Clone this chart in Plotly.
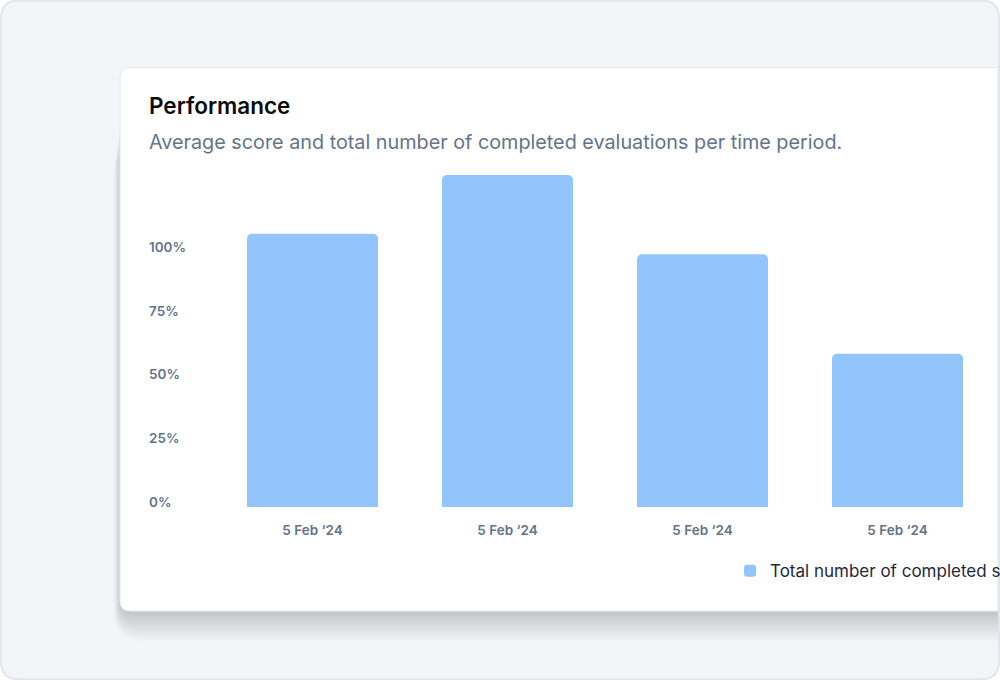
import plotly.graph_objects as go

# ---- data ----
periods = [0, 1, 2, 3]
period_labels = ["5 Feb ‘24", "5 Feb ‘24", "5 Feb ‘24", "5 Feb ‘24"]
completed_pct = [107, 130, 99, 60]
y_tick_vals = [0, 25, 50, 75, 100]
y_tick_text = ["0%", "25%", "50%", "75%", "100%"]
series_name = "Total number of completed surveys"
title_text = "Performance"
subtitle_text = "Average score and total number of completed evaluations per time period."

# ---- layout geometry (pixels) ----
WIDTH, HEIGHT = 1000, 680
L, R = 145, 5
PLOT_BOTTOM = 507
Y_MAX = 132
PX_PER_UNIT = 2.55
PLOT_TOP = PLOT_BOTTOM - Y_MAX * PX_PER_UNIT
T = PLOT_TOP
B = HEIGHT - PLOT_BOTTOM
PW = WIDTH - L - R
PH = PLOT_BOTTOM - PLOT_TOP
X_START = 215


def fx(px):
    return (px - L) / PW


def fy(py):
    return (PLOT_BOTTOM - py) / PH


def rounded_path(x0, y0, x1, y1, r, corners=(True, True, True, True)):
    tl, tr, br, bl = corners

    def P(x, y):
        return f"{fx(x):.5f},{fy(y):.5f}"
    d = f"M {P(x0 + (r if tl else 0), y0)} "
    d += f"L {P(x1 - (r if tr else 0), y0)} "
    if tr:
        d += f"Q {P(x1, y0)} {P(x1, y0 + r)} "
    d += f"L {P(x1, y1 - (r if br else 0))} "
    if br:
        d += f"Q {P(x1, y1)} {P(x1 - r, y1)} "
    d += f"L {P(x0 + (r if bl else 0), y1)} "
    if bl:
        d += f"Q {P(x0, y1)} {P(x0, y1 - r)} "
    d += f"L {P(x0, y0 + (r if tl else 0))} "
    if tl:
        d += f"Q {P(x0, y0)} {P(x0 + r, y0)} "
    d += "Z"
    return d


shapes = []
# outer frame background
shapes.append(dict(type="path", xref="paper", yref="paper", layer="below",
                   path=rounded_path(1, 1, 999, 679, 18),
                   fillcolor="#f3f6f9", line=dict(width=0)))
# card shadow (soft, mostly below the card)
for i in range(26):
    shapes.append(dict(type="path", xref="paper", yref="paper", layer="below",
                       path=rounded_path(121 - i * 0.3, 110 + i * 1.5, 998, 610 + i * 1.25, 10 + i * 0.8,
                                         corners=(True, False, False, True)),
                       fillcolor="rgba(40,44,52,0.0075)", line=dict(width=0)))
# card
shapes.append(dict(type="path", xref="paper", yref="paper", layer="below",
                   path=rounded_path(120, 68, 998, 611, 10, corners=(True, False, False, True)),
                   fillcolor="#ffffff", line=dict(color="#e6e8ec", width=1)))
# frame border
shapes.append(dict(type="path", xref="paper", yref="paper", layer="below",
                   path=rounded_path(1, 1, 999, 679, 18),
                   fillcolor="rgba(0,0,0,0)", line=dict(color="#e2e5ea", width=2)))

fig = go.Figure()
fig.add_trace(go.Bar(
    x=periods, y=completed_pct, name=series_name,
    marker=dict(color="#93c5fd", cornerradius=5, line=dict(width=0)),
    showlegend=True, hoverinfo="skip",
))

FONT = "Inter, 'Noto Sans', sans-serif"
TICK_FONT = dict(family=FONT, size=13.5, color="#64748b", weight=600)

annotations = [
    dict(text=title_text, xref="paper", yref="paper", x=fx(147), y=fy(106),
         xanchor="left", yanchor="middle", showarrow=False,
         font=dict(family=FONT, size=22.5, color="#0a0a0a", weight=600)),
    dict(text=subtitle_text, xref="paper", yref="paper", x=fx(147), y=fy(142),
         xanchor="left", yanchor="middle", showarrow=False,
         font=dict(family=FONT, size=19.8, color="#64748b", weight=400)),
]
# y-axis tick labels, left aligned, placed on the y scale
for v, t in zip(y_tick_vals, y_tick_text):
    annotations.append(dict(text=t, xref="paper", yref="y", x=fx(147), y=v,
                            xanchor="left", yanchor="middle", yshift=5, showarrow=False,
                            font=TICK_FONT))

fig.update_layout(
    width=WIDTH, height=HEIGHT, autosize=False,
    margin=dict(l=L, r=R, t=T, b=B, pad=0, autoexpand=False),
    paper_bgcolor="#ffffff", plot_bgcolor="rgba(0,0,0,0)",
    font=dict(family=FONT),
    bargap=0.328,
    shapes=shapes,
    xaxis=dict(domain=[fx(X_START), 1], range=[-0.5, 3.5],
               tickvals=periods, ticktext=period_labels,
               showgrid=False, zeroline=False, showline=False, ticks="",
               ticklabelstandoff=13, tickfont=TICK_FONT),
    yaxis=dict(range=[0, Y_MAX], tickvals=y_tick_vals, showticklabels=False,
               showgrid=False, zeroline=False, showline=False, ticks=""),
    legend=dict(orientation="h", x=fx(730), xanchor="left", y=fy(571), yanchor="middle",
                font=dict(family=FONT, size=17, color="#1f2937"),
                bgcolor="rgba(0,0,0,0)", itemclick=False),
    annotations=annotations,
)

fig.write_html("out.html", config={"displayModeBar": False},
               post_script="document.body.style.margin='0';document.body.style.overflow='hidden';")
